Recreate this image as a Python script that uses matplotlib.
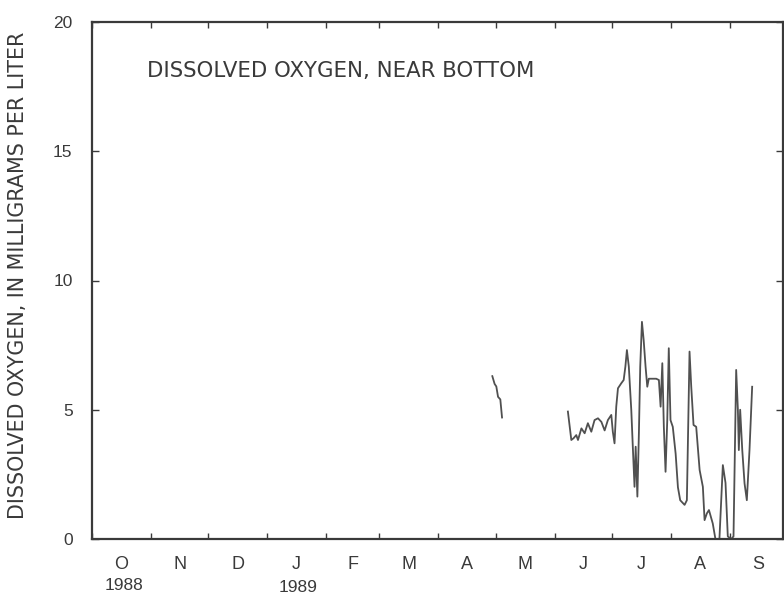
import matplotlib
matplotlib.use("Agg")
import matplotlib.pyplot as plt
import matplotlib.transforms as mtransforms
import numpy as np

# Days since 1988-10-01 (water year 1989) and dissolved oxygen (mg/L)
seg1_days = [210.3, 211.5, 212.4, 213.3, 214.5, 215.4]
seg1_vals = [6.3, 6.0, 5.9, 5.5, 5.4, 4.7]

seg2_days = [250.0, 251.8, 253.0, 254.4, 255.3, 257.1, 258.8, 260.5, 262.3, 264.0,
             265.8, 267.6, 269.3, 271.0, 272.8, 273.6, 274.5, 275.4, 276.3, 278.0,
             279.3, 280.2, 281.0, 282.0, 283.3, 284.1, 285.0, 285.6, 286.5, 287.3,
             288.0, 288.9, 289.8, 290.8, 291.7, 292.5, 294.6, 296.4, 297.8, 298.7,
             299.6, 300.4, 301.3, 302.2, 303.0, 303.9, 305.1, 306.6, 307.8, 309.0,
             311.3, 312.5, 313.9, 314.8, 316.0, 317.4, 319.2, 320.9, 321.8, 323.0,
             324.1, 326.1, 327.5, 329.6, 331.4, 332.8, 334.0, 335.8, 337.0, 338.4,
             339.3, 339.8, 340.5, 341.6, 342.8, 344.0, 345.4, 346.8]
seg2_vals = [4.93, 3.83, 3.9, 4.02, 3.83, 4.28, 4.09, 4.48, 4.15, 4.6,
             4.67, 4.53, 4.2, 4.6, 4.8, 4.15, 3.7, 5.12, 5.83, 6.02,
             6.15, 6.67, 7.31, 6.67, 4.99, 3.57, 2.02, 3.57, 1.64, 4.1,
             6.67, 8.4, 7.7, 6.67, 5.89, 6.2, 6.2, 6.2, 6.15, 5.12,
             6.8, 4.34, 2.6, 4.6, 7.38, 4.6, 4.34, 3.3, 2.0, 1.5,
             1.32, 1.5, 7.25, 5.89, 4.41, 4.34, 2.67, 2.02, 0.73, 0.99,
             1.12, 0.6, 0.0, 0.0, 2.86, 2.17, 0.1, 0.0, 0.1, 6.54,
             5.0, 3.44, 5.0, 3.44, 2.15, 1.5, 3.44, 5.89]

month_starts = [0, 31, 61, 92, 123, 151, 182, 212, 243, 273, 304, 335, 365]
month_labels = ["O", "N", "D", "J", "F", "M", "A", "M", "J", "J", "A", "S"]
y_ticks = [0, 5, 10, 15, 20]

title_text = "DISSOLVED OXYGEN, NEAR BOTTOM"
ylabel_text = "DISSOLVED OXYGEN, IN MILLIGRAMS PER LITER"

ink = "#3a3a3a"
plt.rcParams['font.family'] = ['Liberation Sans', 'DejaVu Sans']

fig = plt.figure(figsize=(7.84, 5.96), dpi=100)
ax = fig.add_axes([92/784, 1 - 539/596, 691/784, (539 - 22)/596])

ax.plot(seg1_days, seg1_vals, color="#505050", lw=1.3)
ax.plot(seg2_days, seg2_vals, color="#505050", lw=1.3)

ax.set_xlim(0, 363)
ax.set_ylim(0, 20)

ax.set_xticks(month_starts[:-1])
ax.set_xticklabels([])
mids = [(a + b) / 2 for a, b in zip(month_starts[:-1], month_starts[1:])]
ax.set_xticks(mids, minor=True)
ax.set_xticklabels(month_labels, minor=True)
ax.tick_params(axis="x", which="major", direction="in", length=4, width=1,
               top=True, bottom=True, color=ink)
ax.tick_params(axis="x", which="minor", length=0, pad=12, labelsize=13,
               labelcolor=ink)

ax.set_yticks(y_ticks)
ax.tick_params(axis="y", direction="in", length=5, width=1, left=True,
               right=True, color=ink, labelsize=12.5, labelcolor=ink, pad=14)

for s in ax.spines.values():
    s.set_linewidth(1.6)
    s.set_color(ink)

trans = mtransforms.blended_transform_factory(ax.transData, ax.transAxes)
ax.text(mids[0] + 1.5, -0.09, "1988", transform=trans, ha="center", va="center",
        fontsize=12.5, color=ink)
ax.text(mids[3] + 0.5, -0.094, "1989", transform=trans, ha="center", va="center",
        fontsize=12.5, color=ink)

ax.text(0.08, 0.905, title_text, transform=ax.transAxes, fontsize=15.3,
        color=ink, ha="left", va="center", family="DejaVu Sans")

fig.text(18/784, 1 - 275/596, ylabel_text, rotation=90, ha="center",
         va="center", fontsize=14.9, color=ink, family="DejaVu Sans")

fig.savefig("out.png", dpi=100)
